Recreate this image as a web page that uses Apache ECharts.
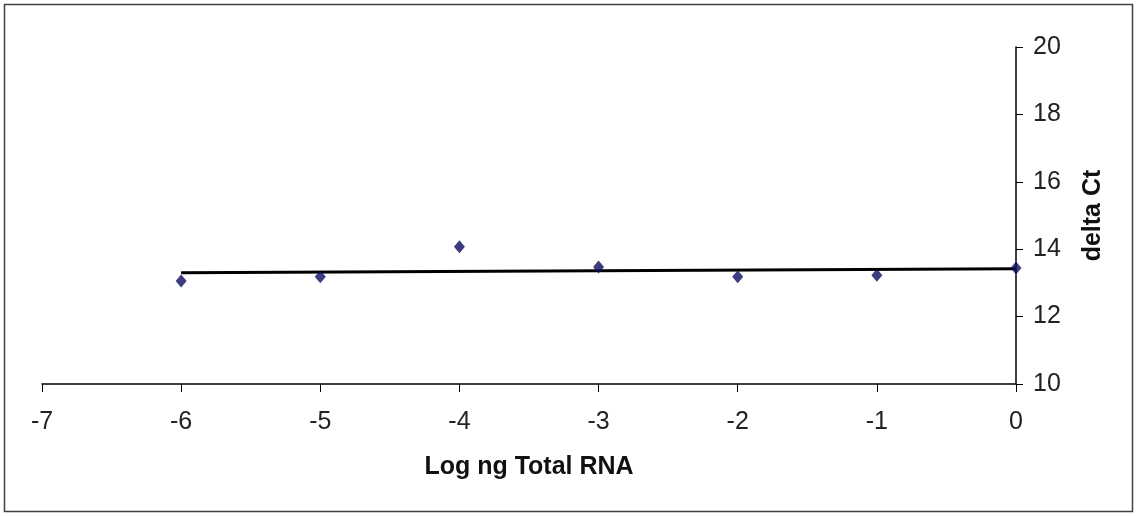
<!DOCTYPE html>
<html>
<head>
<meta charset="utf-8">
<script src="https://cdn.jsdelivr.net/npm/echarts@6/dist/echarts.min.js"></script>
<style>
html, body { margin: 0; padding: 0; background: #fff; }
#chart { width: 1138px; height: 516px; }
</style>
</head>
<body>
<div id="chart"></div>
<script>
// log ng total RNA vs delta Ct
const logRna = [-6, -5, -4, -3, -2, -1, 0];
const deltaCt = [13.06, 13.18, 14.07, 13.47, 13.18, 13.23, 13.44];
// linear trendline end points
const trendX = [-6, 0];
const trendY = [13.3, 13.42];

const chart = echarts.init(document.getElementById('chart'));

const font = '"Liberation Sans", Arial, sans-serif';
const narrow = '"Liberation Sans Narrow", "Arial Narrow", "Liberation Sans", sans-serif';

const option = {
    animation: false,
    backgroundColor: '#fff',
    graphic: [{
        type: 'rect',
        shape: { x: 4.5, y: 4.5, width: 1128, height: 507 },
        style: { fill: 'none', stroke: '#404040', lineWidth: 1.5 },
        silent: true
    }],
    grid: { left: 42, right: 122, top: 47, bottom: 132 },
    xAxis: {
        type: 'value',
        min: -7,
        max: 0,
        interval: 1,
        name: 'Log ng Total RNA',
        nameLocation: 'middle',
        nameGap: 71,
        nameTextStyle: { fontFamily: font, fontSize: 25, fontWeight: 'bold', color: '#111' },
        axisLine: { onZero: false, lineStyle: { color: '#000', width: 1.5 } },
        axisTick: { length: 8, lineStyle: { color: '#000' } },
        axisLabel: { margin: 26, fontFamily: narrow, fontSize: 25, color: '#222' },
        splitLine: { show: false }
    },
    yAxis: {
        type: 'value',
        position: 'right',
        min: 10,
        max: 20,
        interval: 2,
        name: 'delta Ct',
        nameLocation: 'middle',
        nameRotate: 90,
        nameGap: 65,
        nameTextStyle: { fontFamily: font, fontSize: 25, fontWeight: 'bold', color: '#111' },
        axisLine: { show: true, onZero: false, lineStyle: { color: '#000', width: 1.5 } },
        axisTick: { show: true, length: 7, lineStyle: { color: '#000' } },
        axisLabel: { margin: 17, fontFamily: narrow, fontSize: 25, color: '#222' },
        splitLine: { show: false }
    },
    series: [
        {
            name: 'delta Ct',
            type: 'scatter',
            symbol: 'diamond',
            symbolSize: [11, 13],
            itemStyle: { color: '#0b0b5e' },
            data: logRna.map((x, i) => [x, deltaCt[i]]),
            z: 3
        },
        {
            name: 'Linear trend',
            type: 'line',
            symbol: 'none',
            lineStyle: { color: '#000', width: 3 },
            data: trendX.map((x, i) => [x, trendY[i]]),
            z: 2
        }
    ]
};

chart.setOption(option);
</script>
</body>
</html>
